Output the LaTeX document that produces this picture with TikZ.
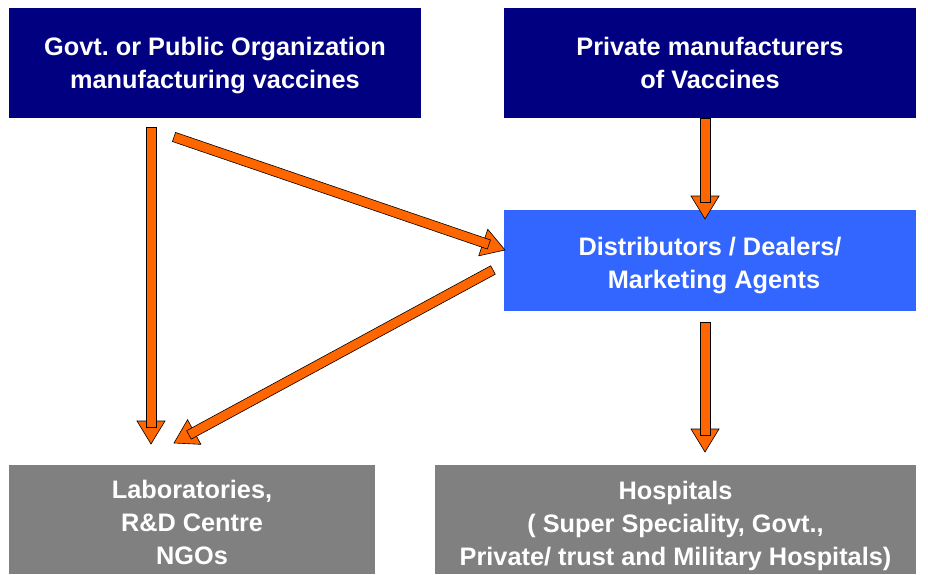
\documentclass[tikz,border=0pt]{standalone}
\usepackage{fontspec}
\setmainfont{Liberation Sans}
\usetikzlibrary{calc}
\definecolor{navyc}{RGB}{0,0,128}
\definecolor{distc}{RGB}{51,102,255}
\definecolor{grayc}{RGB}{128,128,128}
\definecolor{orangec}{RGB}{255,102,0}
\newcommand\blkarrow[2]{%
  \path ($(#2)!23pt!(#1)$) coordinate (hb) ($(#2)!17pt!(#1)$) coordinate (se);
  \filldraw[arr] (#2) -- ($(hb)!14pt!90:(#2)$) -- ($(hb)!14pt!-90:(#2)$) -- cycle;
  \filldraw[arr] ($(#1)!4.8pt!90:(#2)$) -- ($(se)!4.8pt!-90:(#1)$) -- ($(se)!4.8pt!90:(#1)$) -- ($(#1)!4.8pt!-90:(#2)$) -- cycle;
}
\tikzset{
  box/.style={draw=none, inner sep=0pt},
  txt/.style={text=white, align=center, inner sep=0pt,
    font=\bfseries\fontsize{25.3}{33}\selectfont},
  arr/.style={fill=orangec, draw=black, line width=0.6pt, line join=miter}
}
\frenchspacing
\begin{document}
\begin{tikzpicture}[x=1pt,y=1pt]
\useasboundingbox[fill=white] (0,0) rectangle (928,574);
\node[box, fill=navyc, minimum width=412pt, minimum height=110pt] (govt) at (215,511) {};
\node[txt, yshift=-3pt] (govtt) at (govt.center) {Govt. or Public Organization\\manufacturing vaccines};
\node[box, fill=navyc, minimum width=412pt, minimum height=110pt] (priv) at (710,511) {};
\node[txt] (privt) at (priv.center) {Private manufacturers\\of Vaccines};
\node[box, fill=distc, minimum width=412pt, minimum height=101pt] (dist) at (710,313.5) {};
\node[txt, yshift=-5pt] (distt) at (dist.center) {Distributors / Dealers/\\\hspace*{8pt}Marketing Agents};
\node[box, fill=grayc, minimum width=366pt, minimum height=109pt] (labs) at (192,54.5) {};
\node[txt, yshift=-3pt] (labst) at (labs.center) {Laboratories,\\R\&D Centre\\NGOs};
\node[box, fill=grayc, minimum width=481pt, minimum height=109pt] (hosp) at (675.5,54.5) {};
\node[txt, yshift=-6pt] (hospt) at (hosp.center) {Hospitals\\( Super Speciality, Govt.,\\Private/ trust and Military Hospitals)};
\coordinate (a1s) at (151,447);
\coordinate (a1e) at (151,130);
\coordinate (a2s) at (174,437);
\coordinate (a2e) at (505,324);
\coordinate (a3s) at (priv.south);
\coordinate (a3e) at (705,355);
\coordinate (a4s) at (493,304);
\coordinate (a4e) at (174,131);
\coordinate (a5s) at (705,252);
\coordinate (a5e) at (705,122);
\path (a3s) ++(-5,0) coordinate (a3s);
\blkarrow{a1s}{a1e}
\blkarrow{a2s}{a2e}
\blkarrow{a3s}{a3e}
\blkarrow{a4s}{a4e}
\blkarrow{a5s}{a5e}
\end{tikzpicture}
\end{document}
